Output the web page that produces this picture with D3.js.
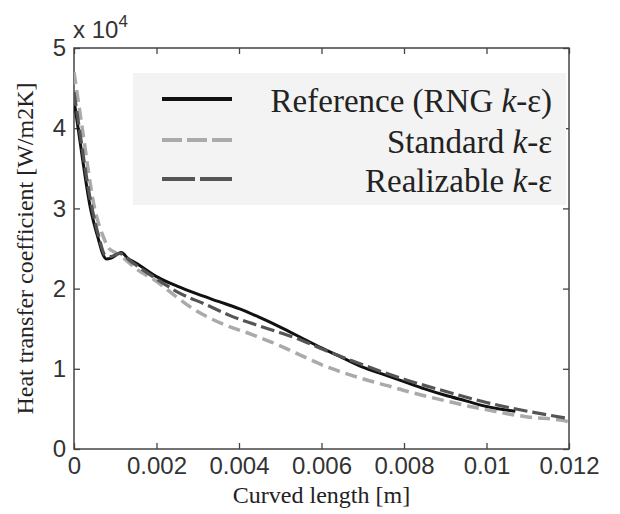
<!DOCTYPE html>
<html>
<head>
<meta charset="utf-8">
<script src="https://cdn.jsdelivr.net/npm/d3@7"></script>
<style>
  body { margin: 0; background: #fff; }
  svg { display: block; }
</style>
</head>
<body>
<div id="chart"></div>
<script>
'use strict';

// curved length [m]
const xTicks = [0, 0.002, 0.004, 0.006, 0.008, 0.01, 0.012];
const xTickLabels = ['0', '0.002', '0.004', '0.006', '0.008', '0.01', '0.012'];
const yTicks = [0, 1, 2, 3, 4, 5];
const yTickLabels = ['0', '1', '2', '3', '4', '5'];

// heat transfer coefficient, in units of 10^4 W/m2K
const refX = [0, 0.0001, 0.0004, 0.0006, 0.0007, 0.00078, 0.0009, 0.00115, 0.0013, 0.0015, 0.002, 0.0025, 0.003, 0.0035, 0.004, 0.0045, 0.005, 0.0055, 0.006, 0.0065, 0.007, 0.0075, 0.008, 0.0085, 0.009, 0.0095, 0.01, 0.0107];
const refY = [4.35, 4.0, 3.0, 2.6, 2.43, 2.37, 2.38, 2.45, 2.38, 2.32, 2.15, 2.03, 1.93, 1.84, 1.75, 1.64, 1.52, 1.39, 1.26, 1.14, 1.02, 0.93, 0.84, 0.75, 0.67, 0.60, 0.53, 0.47];

const stdX = [0, 0.0002, 0.0005, 0.0007, 0.00085, 0.001, 0.0012, 0.0015, 0.002, 0.00245, 0.00285, 0.0033, 0.0037, 0.0043, 0.0048, 0.0052, 0.0057, 0.0061, 0.0066, 0.0071, 0.0076, 0.008, 0.0086, 0.0091, 0.0096, 0.0101, 0.0105, 0.011, 0.0118, 0.012];
const stdY = [4.7, 4.0, 3.0, 2.66, 2.5, 2.45, 2.38, 2.25, 2.09, 1.91, 1.76, 1.63, 1.54, 1.43, 1.33, 1.24, 1.12, 1.03, 0.94, 0.86, 0.79, 0.73, 0.65, 0.59, 0.53, 0.48, 0.44, 0.40, 0.36, 0.34];

const rlzX = [0, 0.0001, 0.0004, 0.0006, 0.00075, 0.0009, 0.0011, 0.0014, 0.002, 0.0025, 0.0032, 0.0038, 0.0047, 0.0055, 0.006, 0.007, 0.008, 0.009, 0.01, 0.011, 0.012];
const rlzY = [4.45, 4.1, 3.1, 2.65, 2.42, 2.40, 2.44, 2.33, 2.12, 1.96, 1.80, 1.66, 1.50, 1.36, 1.25, 1.05, 0.87, 0.72, 0.58, 0.47, 0.38];

const seriesNames = ['Reference (RNG ', 'Standard ', 'Realizable '];

const width = 620;
const height = 514;
const margin = {top: 48, right: 51, bottom: 65, left: 74};

const svg = d3.select('#chart').append('svg')
  .attr('width', width)
  .attr('height', height);

const x = d3.scaleLinear().domain([0, 0.012]).range([margin.left, width - margin.right]);
const y = d3.scaleLinear().domain([0, 5]).range([height - margin.bottom, margin.top]);

// axes, matlab style: ticks inward on all four sides
const tickFont = '"Liberation Sans", Arial, sans-serif';
const serif = '"Liberation Serif", "Times New Roman", serif';
const axisColor = '#444';

const styleAxis = function(g) {
  g.select('.domain').remove();
  g.selectAll('.tick line').attr('stroke', axisColor).attr('stroke-width', 1.3);
  g.selectAll('.tick text')
    .attr('fill', '#333')
    .style('font-family', tickFont)
    .style('font-size', '24px');
};

svg.append('g')
  .attr('transform', `translate(0,${y(0)})`)
  .call(d3.axisBottom(x).tickValues(xTicks)
    .tickFormat((d, i) => xTickLabels[i])
    .tickSizeInner(-6).tickSizeOuter(0).tickPadding(8))
  .call(styleAxis);

svg.append('g')
  .attr('transform', `translate(0,${y(5)})`)
  .call(d3.axisTop(x).tickValues(xTicks).tickFormat('')
    .tickSizeInner(-6).tickSizeOuter(0))
  .call(styleAxis);

svg.append('g')
  .attr('transform', `translate(${x(0)},0)`)
  .call(d3.axisLeft(y).tickValues(yTicks)
    .tickFormat((d, i) => yTickLabels[i])
    .tickSizeInner(-6).tickSizeOuter(0).tickPadding(8))
  .call(styleAxis);

svg.append('g')
  .attr('transform', `translate(${x(0.012)},0)`)
  .call(d3.axisRight(y).tickValues(yTicks).tickFormat('')
    .tickSizeInner(-6).tickSizeOuter(0))
  .call(styleAxis);

// plot frame
svg.append('rect')
  .attr('x', x(0))
  .attr('y', y(5))
  .attr('width', x(0.012) - x(0))
  .attr('height', y(0) - y(5))
  .attr('fill', 'none')
  .attr('stroke', axisColor)
  .attr('stroke-width', 1.5);

// exponent label
const expo = svg.append('text')
  .attr('x', x(0) - 1)
  .attr('y', 38)
  .attr('fill', '#333')
  .style('font-family', tickFont)
  .style('font-size', '24px');
expo.append('tspan').text('x 10');
expo.append('tspan').attr('dy', -11).style('font-size', '17px').text('4');

// axis titles
svg.append('text')
  .attr('x', (x(0) + x(0.012)) / 2)
  .attr('y', 503)
  .attr('text-anchor', 'middle')
  .attr('fill', '#222')
  .style('font-family', serif)
  .style('font-size', '24px')
  .text('Curved length [m]');

svg.append('text')
  .attr('transform', `translate(33,${(y(0) + y(5)) / 2}) rotate(-90)`)
  .attr('text-anchor', 'middle')
  .attr('fill', '#222')
  .style('font-family', serif)
  .style('font-size', '24px')
  .text('Heat transfer coefficient [W/m2K]');

// legend box (drawn under the curves)
svg.append('rect')
  .attr('x', 133)
  .attr('y', 73)
  .attr('width', 433)
  .attr('height', 132)
  .attr('fill', '#f3f3f3');

// curves
svg.append('clipPath').attr('id', 'plotclip')
  .append('rect')
  .attr('x', x(0)).attr('y', y(5))
  .attr('width', x(0.012) - x(0)).attr('height', y(0) - y(5));

const line = d3.line()
  .x(d => x(d[0]))
  .y(d => y(d[1]))
  .curve(d3.curveMonotoneX);

const series = [
  {pts: d3.zip(refX, refY), color: '#111', dash: null, w: 3, legendDash: null},
  {pts: d3.zip(stdX, stdY), color: '#aaa', dash: '12,6', w: 3.5, legendDash: '20,5'},
  {pts: d3.zip(rlzX, rlzY), color: '#555', dash: '14,5', w: 3.2, legendDash: '33,5'}
];

const plot = svg.append('g').attr('clip-path', 'url(#plotclip)');
series.forEach(s => {
  plot.append('path')
    .datum(s.pts)
    .attr('fill', 'none')
    .attr('stroke', s.color)
    .attr('stroke-width', s.w)
    .attr('stroke-dasharray', s.dash)
    .attr('d', line);
});

// legend entries
const rowY = [99, 140, 179];
series.forEach((s, i) => {
  svg.append('line')
    .attr('x1', 162).attr('x2', 232)
    .attr('y1', rowY[i]).attr('y2', rowY[i])
    .attr('stroke', s.color)
    .attr('stroke-width', 4)
    .attr('stroke-dasharray', s.legendDash);

  const t = svg.append('text')
    .attr('x', 552)
    .attr('y', rowY[i] + 13)
    .attr('text-anchor', 'end')
    .attr('fill', '#222')
    .style('font-family', serif)
    .style('font-size', '33px');
  t.append('tspan').text(seriesNames[i]);
  t.append('tspan').style('font-style', 'italic').text('k');
  t.append('tspan').text(i === 0 ? '-ε)' : '-ε');
});
</script>
</body>
</html>
